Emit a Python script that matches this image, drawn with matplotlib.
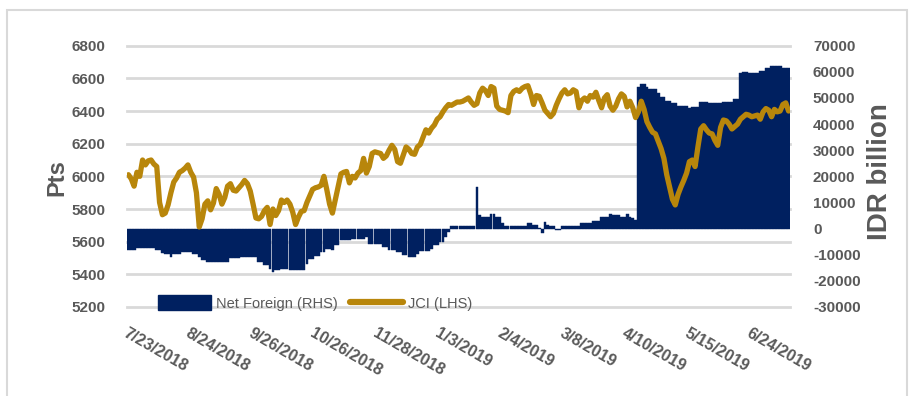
import matplotlib
matplotlib.use("Agg")
import matplotlib.pyplot as plt
from matplotlib.patches import Patch, Rectangle
from matplotlib.lines import Line2D
import numpy as np

# ---------------- data ----------------
X_LABELS = ["7/23/2018", "8/24/2018", "9/26/2018", "10/26/2018", "11/28/2018",
            "1/3/2019", "2/4/2019", "3/8/2019", "4/10/2019", "5/15/2019", "6/24/2019"]
LABEL_STEP = 22  # trading days between labelled categories

JCI = [
    6010, 5985, 5940, 6025, 6000, 6100, 6070, 6095, 6100, 6075,
    6060, 5840, 5765, 5775, 5825, 5900, 5965, 5990, 6025, 6035,
    6050, 6070, 6025, 5995, 5900, 5690, 5740, 5830, 5850, 5795,
    5836, 5925, 5890, 5830, 5870, 5940, 5955, 5915, 5910, 5930,
    5950, 5975, 5955, 5910, 5830, 5745, 5740, 5755, 5790, 5810,
    5705, 5800, 5760, 5790, 5855, 5840, 5855, 5830, 5780, 5705,
    5750, 5785, 5790, 5840, 5880, 5920, 5930, 5935, 5945, 6000,
    5920, 5830, 5775, 5855, 5935, 6015, 6025, 6030, 5960, 6000,
    5990, 6020, 6035, 6110, 6020, 6060, 6140, 6150, 6145, 6140,
    6110, 6125, 6160, 6190, 6165, 6090, 6080, 6130, 6180, 6165,
    6140, 6135, 6180, 6195, 6240, 6285, 6265, 6295, 6315, 6350,
    6365, 6395, 6420, 6440, 6435, 6445, 6455, 6455, 6460, 6470,
    6480, 6455, 6435, 6445, 6510, 6540, 6525, 6495, 6550, 6540,
    6430, 6410, 6405, 6400, 6390, 6495, 6520, 6530, 6520, 6540,
    6550, 6555, 6505, 6440, 6495, 6490, 6450, 6405, 6385, 6365,
    6385, 6435, 6475, 6510, 6530, 6505, 6510, 6530, 6520, 6420,
    6465, 6480, 6460, 6495, 6485, 6515, 6465, 6420, 6480, 6500,
    6430, 6405, 6430, 6475, 6505, 6490, 6425, 6460, 6420, 6360,
    6395, 6460, 6410, 6335, 6300, 6270, 6260, 6215, 6170, 6110,
    6010, 5935, 5860, 5825, 5890, 5935, 5975, 6020, 6090, 6100,
    6060, 6180, 6290, 6310, 6285, 6265, 6260, 6220, 6190, 6300,
    6345, 6340, 6320, 6290, 6305, 6320, 6350, 6365, 6380, 6375,
    6365, 6370, 6375, 6350, 6395, 6415, 6405, 6365, 6410, 6395,
    6400, 6440, 6450, 6400,
]

NET_FOREIGN = [
    -8000, -8000, -8000, -7300, -7300, -7300, -7300, -7300, -7300, -7300,
    -8200, -8200, -9200, -9800, -9800, -10800, -9800, -9800, -9800, -9100,
    -9100, -9100, -9100, -9800, -9800, -10800, -11900, -11900, -12900, -12900,
    -12900, -12900, -12900, -12900, -12900, -12900, -11400, -11400, -11400, -11400,
    -11000, -11000, -11000, -11000, -11000, -11000, -12800, -12800, -14000, -14000,
    -15300, -16500, -15900, -15900, -15300, -15300, -15300, -15900, -15900, -15900,
    -15900, -15900, -15900, -13400, -11500, -11500, -10600, -10600, -9000, -9000,
    -7700, -7700, -8000, -6400, -6400, -4500, -4500, -4500, -4500, -4100,
    -4100, -4100, -4100, -4100, -3200, -5800, -5800, -5800, -5800, -5800,
    -7000, -7000, -8000, -8000, -8000, -8900, -8900, -10200, -10200, -10900,
    -10900, -10900, -9600, -8600, -8600, -8600, -8600, -7700, -6400, -6400,
    -5100, -5100, -3200, -1300, 900, 900, 900, 900, 900, 900,
    900, 900, 900, 15800, 5100, 4500, 4500, 4500, 5600, 5600,
    4300, 4300, 2300, 900, 900, 900, 900, 900, 900, 900,
    900, 2000, 2000, 1200, 1200, 300, -1700, 2600, 1200, 900,
    900, -640, -640, 900, 900, 900, 900, 900, 900, 900,
    2000, 2000, 2000, 2000, 3000, 3000, 3000, 4500, 4500, 4500,
    5600, 5300, 5300, 5300, 4500, 4500, 5700, 4500, 4000, 3300,
    54300, 55300, 55300, 54300, 53300, 53300, 53300, 51800, 50500, 50500,
    49000, 49000, 47900, 47900, 46900, 46900, 46900, 46900, 46000, 46600,
    46600, 46600, 48600, 48600, 48600, 47900, 47900, 47900, 47900, 47900,
    48600, 48600, 48600, 48600, 49500, 49500, 59400, 60000, 60000, 59400,
    59400, 59400, 59400, 60300, 60300, 61300, 61300, 62200, 62200, 62200,
    62200, 61300, 61300, 61300,
]

LEFT_TICKS = [5200, 5400, 5600, 5800, 6000, 6200, 6400, 6600, 6800]
RIGHT_TICKS = [-30000, -20000, -10000, 0, 10000, 20000, 30000, 40000, 50000, 60000, 70000]

# ---------------- style ----------------
NAVY = "#002060"
GOLD = "#B8860B"
GRID = "#D9D9D9"
TXT = "#595959"
FONT = "Liberation Sans"

W, H = 915, 396
fig = plt.figure(figsize=(W / 100, H / 100), dpi=100)

# outer light frame
fig.patches.append(Rectangle((7 / W, -0.05), (907 - 7) / W, 1.05 - 10 / H,
                             transform=fig.transFigure, fill=False,
                             edgecolor=GRID, lw=1.5))

pos = [127 / W, 89 / H, 663 / W, 261.3 / H]
axG = fig.add_axes(pos, zorder=0)
axR = fig.add_axes(pos, zorder=1, sharex=axG)
axL = fig.add_axes(pos, zorder=2, sharex=axG)

n = len(JCI)
x = np.arange(n)

# gridlines (left scale) in the background
axG.set_ylim(LEFT_TICKS[0], LEFT_TICKS[-1])
for v in LEFT_TICKS:
    axG.axhline(v, color=GRID, lw=2.0, clip_on=False)
axG.set_axis_off()

# bars on right scale
axR.bar(x, NET_FOREIGN, width=1.0, color=NAVY, linewidth=0.3, edgecolor=NAVY)
axR.set_ylim(RIGHT_TICKS[0], RIGHT_TICKS[-1])
axR.patch.set_visible(False)

# line on left scale
axL.plot(x, JCI, color=GOLD, lw=3.8, solid_joinstyle="round", solid_capstyle="round")
axL.set_ylim(LEFT_TICKS[0], LEFT_TICKS[-1])
axL.patch.set_visible(False)

axG.set_xlim(-0.5, n - 0.5)

for ax in (axG, axR, axL):
    for s in ax.spines.values():
        s.set_visible(False)

# left ticks
axL.set_yticks(LEFT_TICKS)
axL.set_yticklabels([str(v) for v in LEFT_TICKS])
axL.tick_params(axis="y", left=False, right=False, labelleft=True, labelright=False,
                pad=12, labelsize=11, labelcolor=TXT)
for t in axL.get_yticklabels():
    t.set_fontfamily(FONT); t.set_fontweight("bold")

# right ticks
axR.yaxis.tick_right()
axR.set_yticks(RIGHT_TICKS)
axR.set_yticklabels([str(v) for v in RIGHT_TICKS])
axR.tick_params(axis="y", left=False, right=False, labelleft=False, labelright=True,
                pad=13, labelsize=11, labelcolor=TXT)
for t in axR.get_yticklabels():
    t.set_fontfamily(FONT); t.set_fontweight("bold")
axR.tick_params(axis="x", bottom=False, labelbottom=False)

# x ticks
axL.set_xticks(x[::LABEL_STEP][:len(X_LABELS)])
axL.set_xticklabels(X_LABELS)
axL.tick_params(axis="x", bottom=False, top=False, pad=10, labelsize=11.5, labelcolor=TXT)
for t in axL.get_xticklabels():
    t.set_fontfamily(FONT); t.set_fontweight("bold")
    t.set_rotation(-30); t.set_ha("left"); t.set_va("top"); t.set_rotation_mode("anchor")

# axis titles
fig.text(57 / W, 1 - 178 / H, "Pts", rotation=90, ha="center", va="center",
         fontsize=17, fontweight="bold", color=TXT, family=FONT)
fig.text(880 / W, 1 - 172 / H, "IDR billion", rotation=90, ha="center", va="center",
         fontsize=20, fontweight="bold", color=TXT, family=FONT)

# legend
handles = [Patch(facecolor=NAVY, edgecolor=NAVY),
           Line2D([0], [0], color=GOLD, lw=4.5, solid_capstyle="round")]
leg = fig.legend(handles, ["Net Foreign (RHS)", "JCI (LHS)"], loc="center left",
                 bbox_to_anchor=(158 / W, 1 - 303 / H), bbox_transform=fig.transFigure,
                 ncol=2, frameon=False, borderpad=0, borderaxespad=0,
                 handlelength=3.6, handleheight=1.15, handletextpad=0.35,
                 columnspacing=0.9,
                 prop={"family": FONT, "size": 10.5})
for t in leg.get_texts():
    t.set_color(TXT)

fig.savefig("out.png", dpi=100)
